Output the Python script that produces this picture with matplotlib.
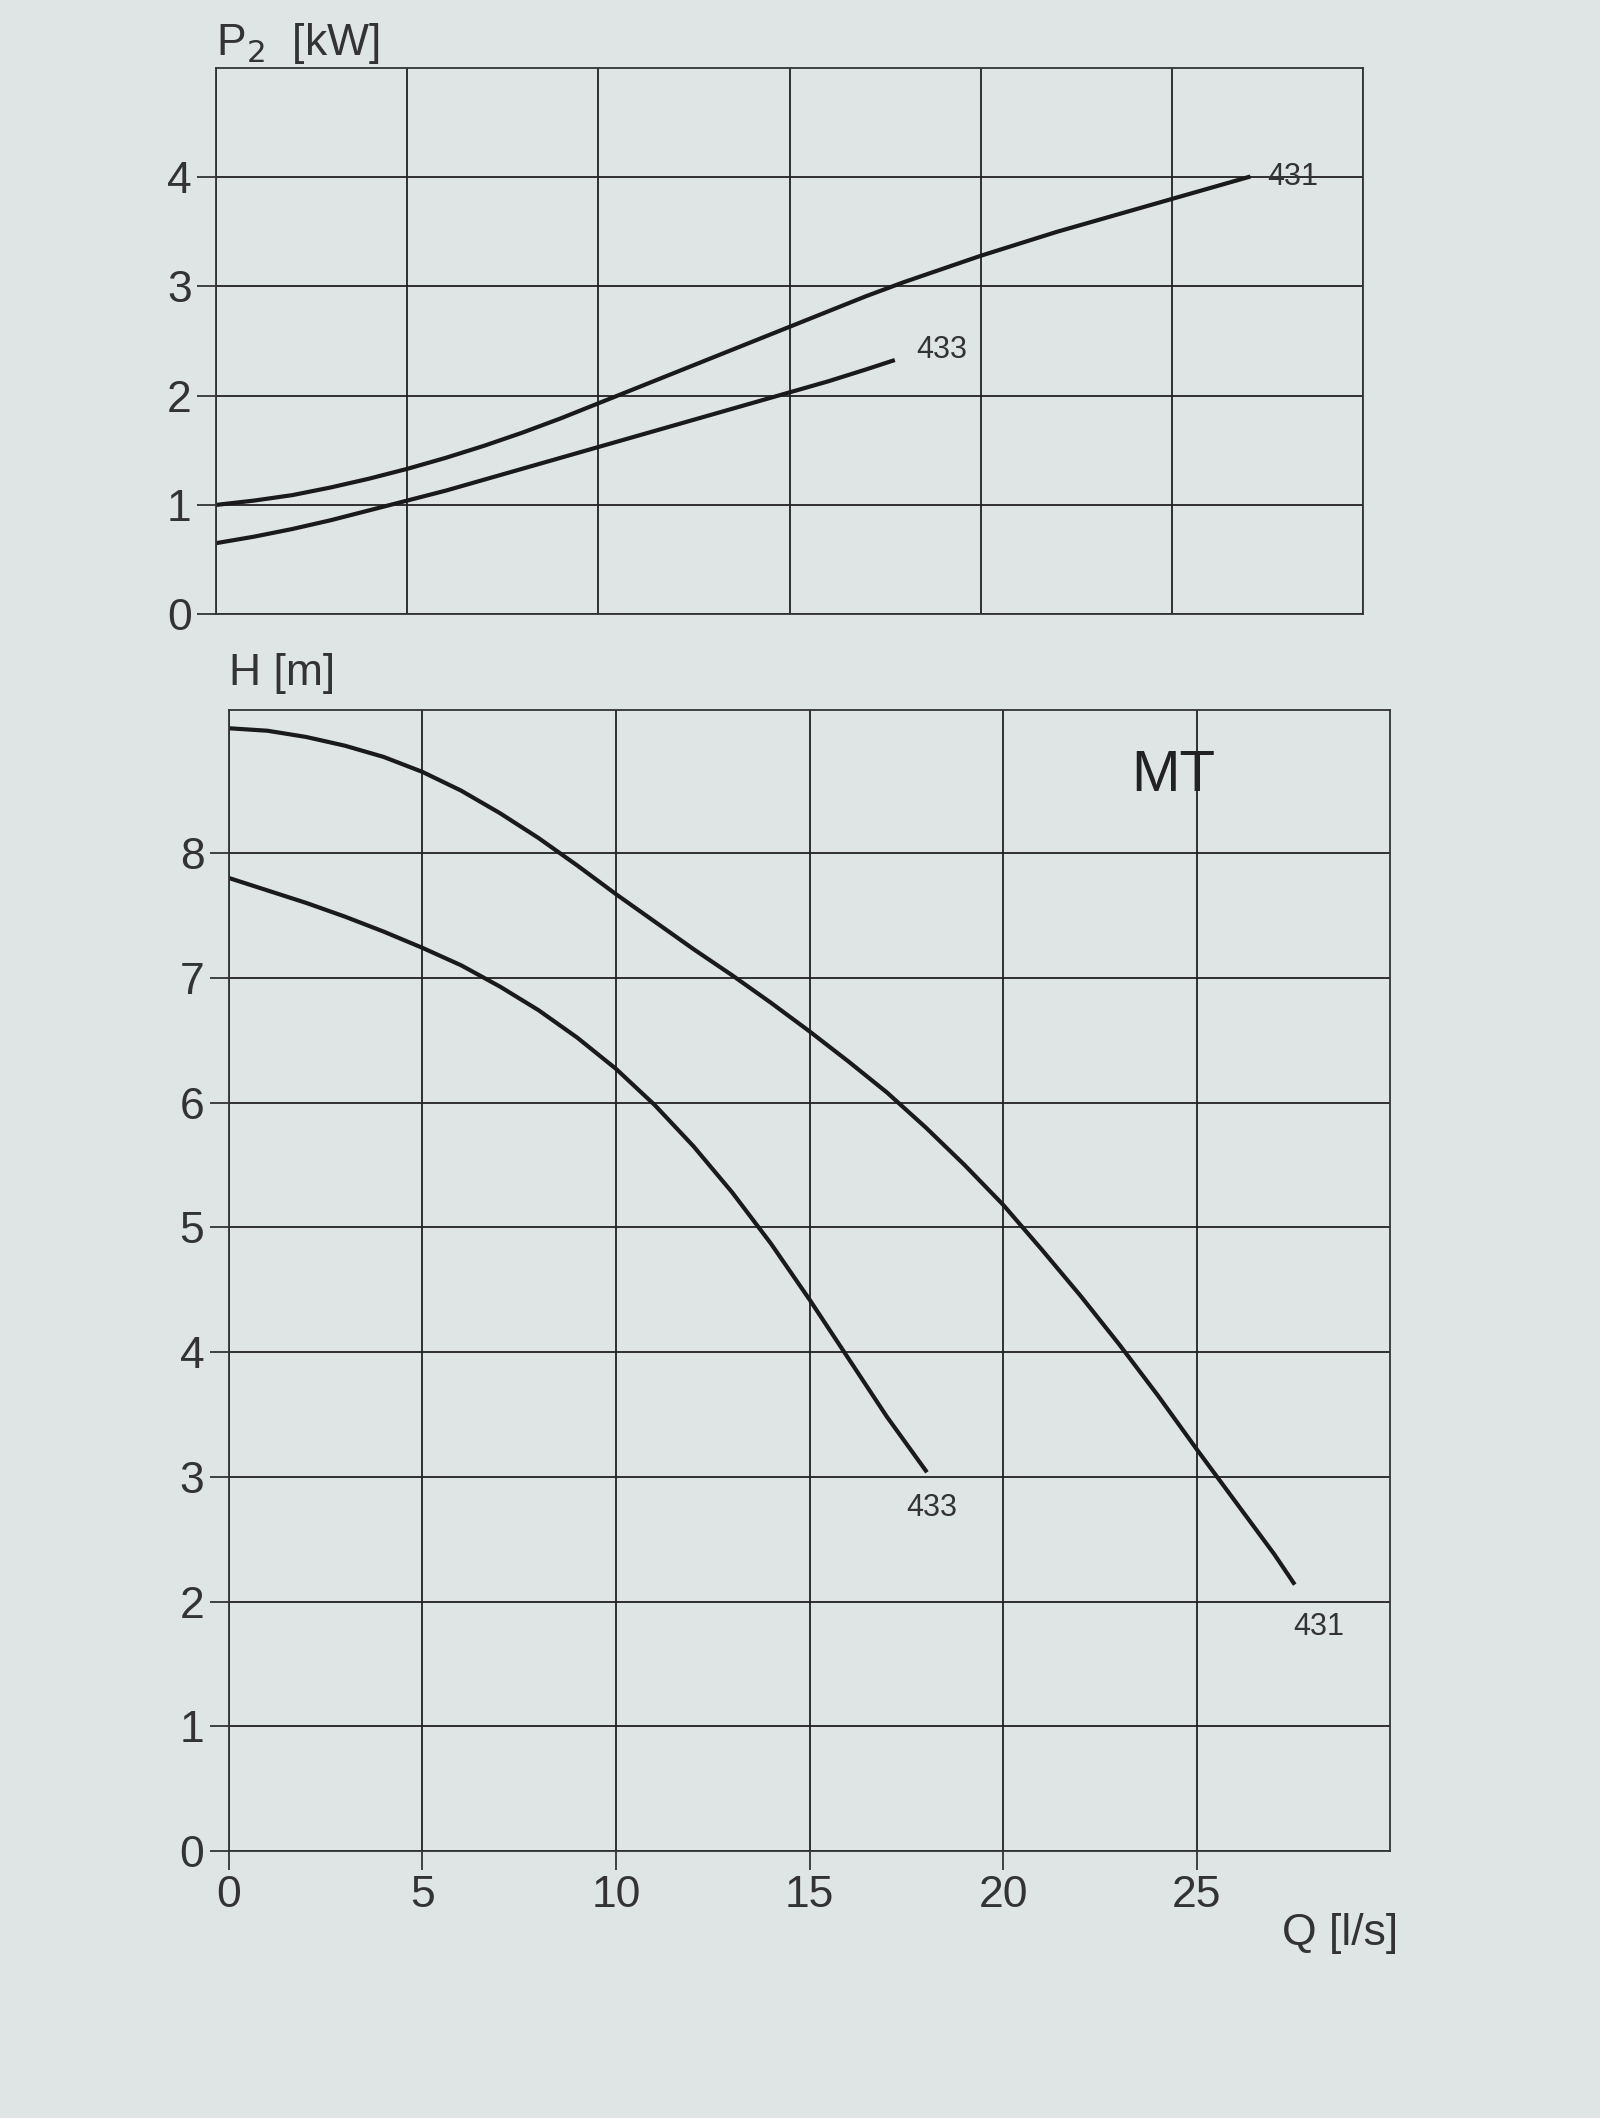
import numpy as np
import matplotlib.pyplot as plt

plt.rcParams['font.family'] = ['Liberation Sans', 'DejaVu Sans']

# Datos
q_p431 = [0, 1, 2, 3, 4, 5, 6, 7, 8, 9, 10, 11, 12, 13, 14, 15, 16, 17,
          18, 19, 20, 21, 22, 23, 24, 25, 26, 27]
p_431 = [1.0, 1.04, 1.09, 1.16, 1.24, 1.33, 1.43, 1.54, 1.66, 1.79, 1.93,
         2.07, 2.21, 2.35, 2.49, 2.63, 2.77, 2.91, 3.04, 3.16, 3.28, 3.39,
         3.5, 3.6, 3.7, 3.8, 3.9, 4.0]
q_p433 = [0, 1, 2, 3, 4, 5, 6, 7, 8, 9, 10, 11, 12, 13, 14, 15, 16, 17, 17.7]
p_433 = [0.65, 0.71, 0.78, 0.86, 0.95, 1.04, 1.13, 1.23, 1.33, 1.43, 1.53,
         1.63, 1.73, 1.83, 1.93, 2.03, 2.13, 2.24, 2.32]

q_h431 = [0, 1, 2, 3, 4, 5, 6, 7, 8, 9, 10, 11, 12, 13, 14, 15, 16, 17,
          18, 19, 20, 21, 22, 23, 24, 25, 26, 27, 27.5]
h_431 = [9.0, 8.98, 8.93, 8.86, 8.77, 8.65, 8.5, 8.32, 8.12, 7.9, 7.67,
         7.45, 7.23, 7.02, 6.8, 6.57, 6.33, 6.08, 5.8, 5.5, 5.18, 4.82,
         4.45, 4.06, 3.65, 3.22, 2.8, 2.38, 2.15]
q_h433 = [0, 1, 2, 3, 4, 5, 6, 7, 8, 9, 10, 11, 12, 13, 14, 15, 16, 17, 18]
h_433 = [7.8, 7.7, 7.6, 7.49, 7.37, 7.24, 7.1, 6.93, 6.74, 6.52, 6.27,
         5.98, 5.65, 5.28, 4.87, 4.42, 3.95, 3.48, 3.05]

BG = '#dfe5e5'
INK = '#1a1a1a'
TXT = '#333333'
fig = plt.figure(figsize=(16, 21.18), dpi=100, facecolor=BG)

ax1 = fig.add_axes([0.135, 0.71, 0.717, 0.258])
ax2 = fig.add_axes([0.143, 0.126, 0.726, 0.539])

for ax in (ax1, ax2):
    ax.set_facecolor(BG)
    ax.grid(True, color='#222222', lw=1.3)
    for s in ax.spines.values():
        s.set_color(TXT); s.set_linewidth(1.3)
    ax.tick_params(labelsize=32, length=14, width=1.3, color=TXT,
                   labelcolor=TXT)

# -- Potencia --
ax1.plot(q_p431, p_431, color=INK, lw=3)
ax1.plot(q_p433, p_433, color=INK, lw=3)
ax1.set_xlim(0, 30); ax1.set_ylim(0, 5)
ax1.set_xticks(range(0, 31, 5)); ax1.set_xticklabels([])
ax1.set_yticks([0, 1, 2, 3, 4])
ax1.tick_params(axis='x', length=0)
ax1.text(27.5, 4.0, '431', fontsize=22, va='center', color=TXT)
ax1.text(18.3, 2.42, '433', fontsize=22, va='center', color=TXT)
ax1.text(0, 5.12, 'P$_2$  [kW]', fontsize=32, color=TXT)

# -- Altura --
ax2.plot(q_h431, h_431, color=INK, lw=3)
ax2.plot(q_h433, h_433, color=INK, lw=3)
ax2.set_xlim(0, 30); ax2.set_ylim(0, 9.15)
ax2.set_xticks(range(0, 26, 5)); ax2.set_yticks(range(0, 9))
ax2.text(17.5, 2.75, '433', fontsize=22, va='center', color=TXT)
ax2.text(27.5, 1.8, '431', fontsize=22, va='center', color=TXT)
ax2.text(23.3, 8.5, 'MT', fontsize=42, color='#222222')
ax2.text(0, 9.35, 'H [m]', fontsize=32, color=TXT)
ax2.text(30.2, -0.75, 'Q [l/s]', fontsize=32, ha='right', color=TXT)

fig.savefig('out.png', dpi=100, facecolor=BG)
